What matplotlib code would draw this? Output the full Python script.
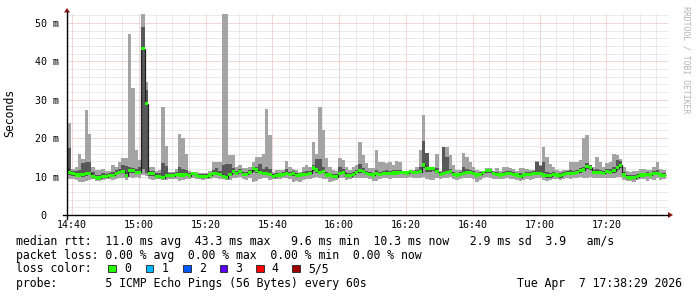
import numpy as np
import matplotlib
matplotlib.use("Agg")
import matplotlib.pyplot as plt
from matplotlib.patches import Rectangle, Polygon
from matplotlib.lines import Line2D

# ---------------- data (ms, one value per minute) ----------------
start_min = 37.764          # first bin start, minutes after 14:00
view_start = 38.483         # 14:38:29
view_end = 218.483          # 17:38:29

median = [
    12.2, 11.0, 10.8, 10.4, 10.4, 10.6, 10.8, 10.8, 10.0, 9.6,
    9.6, 10.0, 10.0, 10.2, 10.3, 10.8, 11.1, 11.3, 10.2, 11.6,
    11.5, 11.1, 11.1, 43.3, 29.0, 10.7, 10.7, 10.0, 10.0, 9.7,
    10.2, 10.2, 10.2, 10.6, 10.4, 10.4, 10.6, 10.2, 10.8, 10.4,
    10.0, 10.0, 10.0, 10.4, 10.8, 10.85, 10.6, 10.0, 9.7, 10.6,
    11.3, 10.85, 11.3, 10.6, 10.6, 11.1, 12.0, 11.7, 11.1, 10.85,
    10.8, 10.6, 10.0, 10.2, 10.4, 10.6, 10.85, 10.6, 10.8, 10.2,
    10.4, 10.6, 10.6, 10.8, 12.2, 11.7, 11.1, 11.3, 10.4, 10.4,
    10.0, 10.0, 10.85, 11.1, 10.2, 10.2, 10.6, 11.1, 11.5, 11.3,
    10.8, 10.6, 10.4, 10.8, 10.6, 10.8, 10.8, 10.8, 10.9, 10.9,
    11.1, 11.1, 10.9, 11.3, 11.1, 11.1, 11.3, 13.0, 12.0, 12.0,
    12.0, 11.3, 10.6, 10.8, 11.1, 11.3, 10.6, 10.4, 10.6, 10.8,
    11.1, 11.1, 10.8, 10.4, 10.6, 11.1, 11.5, 11.5, 10.8, 10.6,
    10.4, 10.6, 10.8, 10.8, 10.6, 10.4, 10.0, 10.4, 10.6, 10.6,
    10.8, 10.85, 10.8, 10.4, 10.2, 10.2, 10.6, 10.4, 10.2, 10.6,
    10.8, 10.85, 10.8, 11.1, 11.5, 11.7, 12.6, 12.3, 11.1, 11.1,
    11.1, 10.85, 11.3, 11.1, 11.5, 12.3, 12.9, 10.4, 9.7, 9.6,
    9.7, 10.0, 10.4, 10.4, 10.6, 10.4, 10.8, 10.8, 10.4, 10.3,
]

ping_min = [
    10.5, 9.4, 9.3, 9.2, 8.6, 8.6, 8.9, 9.2, 9.3, 8.9,
    8.8, 9.2, 9.3, 9.4, 9.1, 9.3, 9.5, 9.6, 9.2, 9.8,
    9.7, 9.8, 9.6, 10.5, 10.2, 9.4, 9.0, 9.3, 9.3, 9.0,
    9.2, 9.3, 9.4, 9.3, 8.9, 9.0, 9.3, 9.4, 9.6, 9.3,
    9.3, 9.2, 9.3, 9.4, 9.6, 9.5, 9.4, 9.3, 9.0, 9.2,
    9.6, 9.5, 9.8, 9.3, 9.2, 9.6, 8.6, 8.8, 9.4, 9.6,
    9.6, 9.2, 9.3, 9.4, 9.4, 9.5, 9.6, 9.4, 8.7, 8.8,
    8.6, 9.2, 9.4, 9.4, 9.6, 9.8, 9.5, 9.4, 9.3, 8.6,
    8.8, 9.2, 9.5, 9.6, 9.2, 9.3, 9.5, 9.6, 9.6, 9.6,
    9.5, 9.3, 8.8, 8.8, 9.3, 9.5, 9.5, 9.3, 9.5, 9.5,
    9.6, 9.7, 9.5, 9.8, 9.6, 9.6, 9.6, 9.8, 9.4, 9.0,
    9.2, 9.6, 9.3, 9.5, 9.6, 9.8, 9.4, 9.2, 9.3, 9.5,
    9.6, 9.6, 9.3, 8.6, 9.2, 9.6, 9.8, 9.7, 9.4, 9.3,
    9.3, 9.3, 9.5, 9.4, 9.3, 9.1, 8.8, 9.2, 9.4, 9.2,
    9.4, 9.5, 9.5, 9.2, 8.9, 9.1, 9.3, 9.3, 9.1, 9.4,
    9.5, 9.4, 9.6, 9.6, 9.8, 9.6, 9.7, 9.9, 9.5, 9.6,
    9.5, 9.5, 9.6, 9.6, 9.7, 9.8, 10.0, 9.2, 8.9, 8.8,
    8.6, 9.1, 9.4, 9.3, 8.9, 9.3, 9.2, 9.5, 9.2, 9.4,
]

ping_2nd = [
    11.6, 10.4, 10.2, 9.9, 9.8, 10.0, 10.2, 10.3, 9.6, 9.3,
    9.2, 9.6, 9.7, 9.8, 9.9, 10.3, 10.6, 10.8, 9.8, 11.0,
    11.0, 10.6, 10.6, 12.0, 11.0, 10.2, 10.2, 9.7, 9.7, 9.4,
    9.8, 9.8, 9.9, 10.1, 9.9, 10.0, 10.1, 9.9, 10.3, 10.0,
    9.7, 9.6, 9.7, 10.0, 10.3, 10.4, 10.1, 9.6, 9.4, 10.1,
    10.8, 10.4, 10.8, 10.2, 10.1, 10.6, 11.2, 11.0, 10.6, 10.4,
    10.3, 10.1, 9.7, 9.8, 10.0, 10.1, 10.4, 10.1, 10.2, 9.8,
    9.8, 10.1, 10.2, 10.3, 11.5, 11.0, 10.6, 10.8, 10.0, 9.9,
    9.6, 9.6, 10.4, 10.6, 9.8, 9.8, 10.1, 10.6, 10.9, 10.8,
    10.3, 10.1, 9.9, 10.3, 10.2, 10.3, 10.3, 10.3, 10.4, 10.4,
    10.6, 10.6, 10.4, 10.8, 10.6, 10.6, 10.8, 12.2, 11.2, 11.3,
    11.4, 10.8, 10.1, 10.3, 10.6, 10.8, 10.1, 9.9, 10.1, 10.3,
    10.6, 10.6, 10.3, 9.9, 10.1, 10.6, 11.0, 11.0, 10.3, 10.1,
    10.0, 10.1, 10.3, 10.3, 10.1, 9.9, 9.6, 9.9, 10.1, 10.1,
    10.3, 10.4, 10.3, 9.9, 9.7, 9.7, 10.1, 9.9, 9.7, 10.1,
    10.3, 10.4, 10.3, 10.6, 11.0, 11.2, 12.0, 11.6, 10.6, 10.6,
    10.6, 10.4, 10.8, 10.6, 11.0, 11.7, 12.3, 9.9, 9.3, 9.2,
    9.3, 9.6, 9.9, 9.9, 10.1, 9.9, 10.3, 10.3, 9.9, 9.8,
]

ping_4th = [
    32.0, 17.5, 11.5, 11.5, 11.8, 13.5, 13.8, 13.8, 11.2, 10.4,
    10.3, 10.8, 10.7, 10.9, 11.3, 11.6, 12.0, 13.0, 12.8, 12.6,
    12.3, 12.0, 12.4, 49.0, 32.5, 11.5, 11.5, 10.8, 10.9, 13.5,
    12.8, 10.9, 10.9, 11.3, 12.5, 12.0, 11.8, 10.9, 11.1, 11.0,
    10.6, 10.6, 10.6, 11.0, 11.8, 12.2, 11.5, 13.0, 13.4, 13.4,
    12.2, 11.5, 12.0, 11.3, 11.2, 11.8, 12.6, 12.6, 13.2, 12.0,
    12.5, 12.0, 10.6, 10.9, 11.0, 11.2, 12.0, 11.3, 11.5, 10.9,
    10.8, 11.3, 11.4, 11.5, 13.0, 14.5, 14.5, 12.5, 11.2, 11.0,
    10.6, 10.6, 12.6, 12.0, 10.9, 10.9, 11.3, 11.8, 13.2, 12.2,
    11.5, 11.2, 11.0, 11.8, 11.3, 11.4, 11.6, 11.5, 11.6, 11.7,
    11.8, 11.2, 11.0, 11.5, 11.5, 11.8, 12.5, 19.3, 16.1, 12.5,
    12.4, 12.3, 11.2, 17.8, 15.0, 12.0, 11.3, 11.0, 11.2, 12.6,
    11.9, 11.8, 11.4, 11.0, 11.2, 11.3, 12.0, 12.0, 11.3, 11.2,
    11.0, 11.2, 11.5, 11.4, 11.2, 10.9, 10.8, 11.0, 11.2, 11.2,
    11.4, 13.9, 12.8, 13.9, 11.2, 10.9, 11.2, 11.0, 10.8, 11.2,
    11.4, 11.6, 11.5, 11.8, 12.3, 12.6, 13.6, 12.9, 11.8, 12.0,
    11.8, 11.5, 12.0, 11.9, 12.4, 14.3, 14.0, 11.2, 10.3, 10.3,
    10.3, 10.7, 11.0, 11.0, 11.3, 11.0, 11.4, 11.8, 11.0, 11.0,
]

ping_max = [
    48.0, 24.0, 12.0, 12.5, 15.8, 14.5, 27.3, 21.0, 12.6, 11.7,
    11.7, 12.0, 11.5, 11.5, 13.0, 12.6, 13.9, 14.8, 14.8, 47.0,
    33.0, 16.9, 14.3, 60.0, 34.5, 12.6, 12.6, 11.5, 11.7, 28.0,
    18.0, 11.3, 11.3, 12.0, 21.0, 20.0, 16.0, 11.5, 11.3, 11.3,
    10.9, 10.9, 10.9, 11.5, 13.9, 13.9, 13.9, 60.0, 60.0, 15.6,
    15.6, 12.6, 12.9, 12.3, 12.3, 12.6, 13.9, 15.2, 15.2, 16.0,
    27.6, 20.8, 11.3, 11.7, 11.7, 11.7, 14.1, 12.6, 12.0, 11.7,
    11.1, 12.6, 13.0, 12.6, 19.0, 16.0, 28.0, 22.0, 14.8, 12.6,
    11.7, 11.5, 14.8, 14.3, 12.6, 11.7, 12.6, 13.0, 19.0, 15.6,
    13.5, 12.2, 12.2, 17.0, 13.9, 13.9, 13.5, 13.9, 13.0, 14.1,
    13.9, 11.3, 11.1, 11.7, 11.7, 12.6, 16.9, 25.9, 16.1, 12.6,
    12.6, 15.8, 11.5, 17.8, 17.6, 15.6, 13.0, 11.7, 11.7, 16.1,
    15.2, 13.9, 12.6, 11.7, 11.5, 11.5, 12.3, 12.3, 11.5, 12.2,
    11.5, 12.6, 12.6, 12.3, 12.0, 11.4, 12.2, 12.2, 12.0, 11.7,
    11.7, 14.1, 13.0, 17.6, 15.2, 13.2, 12.6, 11.7, 11.5, 11.7,
    11.7, 13.9, 13.9, 13.9, 14.3, 20.0, 20.8, 13.0, 12.6, 15.2,
    13.9, 12.6, 13.5, 13.9, 15.8, 15.6, 14.6, 12.6, 11.5, 11.3,
    11.5, 11.5, 12.0, 12.0, 11.7, 11.7, 12.6, 13.9, 12.0, 11.7,
]

y_ticks = [0, 10, 20, 30, 40, 50]
y_ticklabels = [" 0", "10 m", "20 m", "30 m", "40 m", "50 m"]
x_ticks = [40, 60, 80, 100, 120, 140, 160, 180, 200]
x_ticklabels = ["14:40", "15:00", "15:20", "15:40", "16:00",
                "16:20", "16:40", "17:00", "17:20"]

loss_labels = ["0", "1", "2", "3", "4", "5/5"]
loss_colors = ["#26ff00", "#00b8ff", "#0059ff", "#5e00ff", "#ff0000", "#a10000"]

legend_lines = [
    "median rtt:  11.0 ms avg  43.3 ms max   9.6 ms min  10.3 ms now   2.9 ms sd  3.9   am/s",
    "packet loss: 0.00 % avg  0.00 % max  0.00 % min  0.00 % now",
    "loss color:",
    "probe:       5 ICMP Echo Pings (56 Bytes) every 60s",
]
timestamp = "Tue Apr  7 17:38:29 2026"

# ---------------- figure ----------------
W, H = 697, 297
MONO = "DejaVu Sans Mono"
fig = plt.figure(figsize=(W / 100, H / 100), dpi=100)
fig.patch.set_facecolor("white")


def fx(x):
    return x / W


def fy(y):
    return 1 - y / H


ax = fig.add_axes([fx(67), fy(215), (668 - 67) / W, (215 - 14) / H])
ax.set_xlim(view_start, view_end)
ax.set_ylim(0, 52.3)
ax.set_facecolor("white")
for s in ax.spines.values():
    s.set_visible(False)

edges = start_min + np.arange(len(median) + 1)
med = np.array(median)
p1 = np.array(ping_min)
p2 = np.array(ping_2nd)
p4 = np.array(ping_4th)
p5 = np.array(ping_max)

# grid
ax.set_axisbelow(True)
ax.set_yticks(y_ticks)
ax.set_yticks(np.arange(0, 53, 2), minor=True)
ax.set_xticks(x_ticks)
ax.set_xticks(np.arange(40, 219, 5), minor=True)
ax.grid(which="minor", color="#d6d6d6", linestyle=(0, (1, 1)), linewidth=0.72)
ax.grid(which="major", color="#e8b0b0", linestyle=(0, (1, 1)), linewidth=0.72)

# smoke
ax.fill_between(edges, np.r_[p1, p1[-1]], np.r_[p5, p5[-1]], step="post",
                color="#a4a4a4", linewidth=0, antialiased=False, zorder=2)
ax.fill_between(edges, np.r_[p2, p2[-1]], np.r_[p4, p4[-1]], step="post",
                color="#585858", linewidth=0, antialiased=False, zorder=3)
# median
ax.stairs(med, edges, baseline=None, color="#202020", linewidth=0.9, zorder=4)
sw = 0.42
ax.bar(edges[:-1], 2 * sw, bottom=med - sw, width=1.0, align="edge",
       color=loss_colors[0], linewidth=0, antialiased=False, zorder=5)

# ticks
ax.set_xticklabels(x_ticklabels, fontfamily=MONO, fontsize=7.2)
ax.set_yticklabels(y_ticklabels, fontfamily=MONO, fontsize=7.2)
for lab in ax.get_yticklabels():
    lab.set_horizontalalignment("left")
ax.tick_params(axis="x", which="both", length=0, pad=3.5)
ax.tick_params(axis="y", which="both", length=0, pad=23.0)

# axes lines and arrows
fig.add_artist(Line2D([fx(63), fx(668)], [fy(215), fy(215)], color="black", lw=1.0))
fig.add_artist(Line2D([fx(67), fx(67)], [fy(219), fy(12)], color="black", lw=1.0))
arrow_c = "#8b1010"
fig.add_artist(Polygon([(fx(64), fy(12.5)), (fx(70), fy(12.5)), (fx(67), fy(8))],
                       closed=True, color=arrow_c, lw=0))
fig.add_artist(Polygon([(fx(668), fy(212)), (fx(668), fy(218)), (fx(673), fy(215))],
                       closed=True, color=arrow_c, lw=0))

# labels
fig.text(fx(10), fy(113), "Seconds", rotation=90, ha="center", va="center",
         fontfamily=MONO, fontsize=8.3)
fig.text(fx(686), fy(60), "RRDTOOL / TOBI OETIKER", rotation=270, ha="center",
         va="center", fontfamily=MONO, fontsize=5.9, color="#b4b4b4")

ys = [241, 255.5, 268.5, 283.3]
for txt, y in zip(legend_lines, ys):
    fig.text(fx(16), fy(y), txt, ha="left", va="center", fontfamily=MONO, fontsize=8.3)

box_x = [108.3, 145.7, 183.0, 219.7, 256.0, 292.3]
for i, (lab, col) in enumerate(zip(loss_labels, loss_colors)):
    bx = box_x[i]
    fig.add_artist(Rectangle((fx(bx), fy(272)), 7.5 / W, 7.5 / H, facecolor=col,
                             edgecolor="#202020", lw=0.6))
    fig.text(fx(bx + 15.7), fy(ys[2]), lab, ha="left", va="center",
             fontfamily=MONO, fontsize=8.3)

fig.text(fx(682), fy(ys[3]), timestamp, ha="right", va="center",
         fontfamily=MONO, fontsize=8.3)

fig.savefig("out.png", dpi=100, facecolor="white")
